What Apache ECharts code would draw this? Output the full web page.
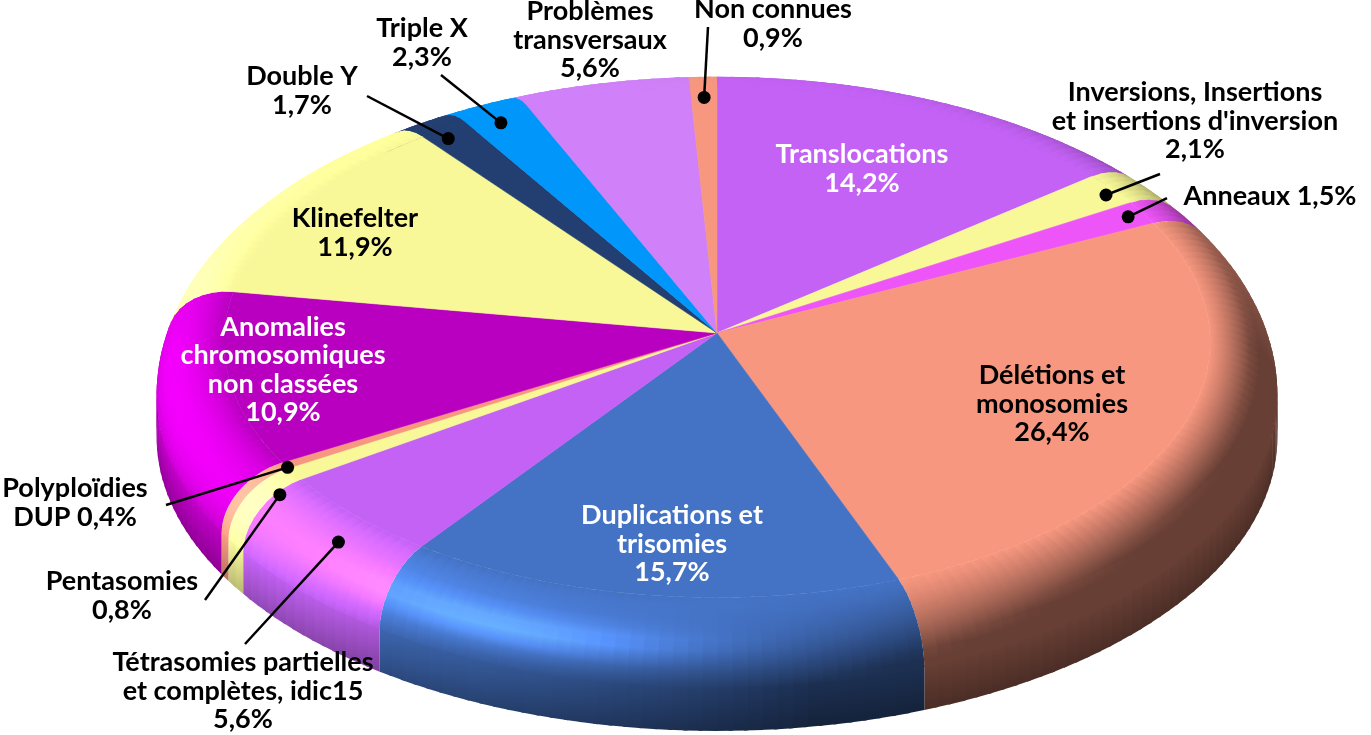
<!DOCTYPE html>
<html>
<head>
<meta charset="utf-8">
<script src="https://cdn.jsdelivr.net/npm/echarts@6/dist/echarts.min.js"></script>
<style>
html, body { margin: 0; padding: 0; background: #fff; }
#chart { width: 1371px; height: 735px; }
</style>
</head>
<body>
<div id="chart"></div>
<script>
// données (en %), dans l'ordre des aiguilles d'une montre depuis 12h
const categories = ['Translocations', "Inversions, Insertions\net insertions d'inversion", 'Anneaux',
  'Délétions et\nmonosomies', 'Duplications et\ntrisomies', 'Tétrasomies partielles\net complètes, idic15',
  'Pentasomies', 'Polyploïdies\nDUP', 'Anomalies\nchromosomiques\nnon classées', 'Klinefelter',
  'Double Y', 'Triple X', 'Problèmes\ntransversaux', 'Non connues'];
const values = [14.2, 2.1, 1.5, 26.4, 15.7, 5.6, 0.8, 0.4, 10.9, 11.9, 1.7, 2.3, 5.6, 0.9];
const joiners = ['\n', '\n', ' ', '\n', '\n', '\n', '\n', ' ', '\n', '\n', '\n', '\n', '\n', '\n'];

// couleurs
const colors = ['#C462F6', '#F8F898', '#EE55F8', '#F7977F', '#4472C4', '#C462F6', '#F8F898',
  '#F7977F', '#B900C0', '#F8F898', '#233E70', '#0096FA', '#D080F8', '#F7977F'];
const textColors = ['#fff', '#000', '#000', '#000', '#fff', '#000', '#000', '#000', '#fff', '#000',
  '#000', '#000', '#000', '#000'];

// placement des étiquettes (px), bouts des traits, points (rayon, profondeur)
const labelPos = [[862, 169], [1195, 121], [1270, 196], [1052, 404], [672, 544], [243, 691], [122, 596],
  [75, 503], [283, 370], [355, 233], [302, 91], [422, 43], [590, 40], [773, 24]];
const leaderEnd = [null, [1160, 174], [1167, 198], null, null, [245, 644], [205, 600], [166, 505],
  null, null, [367, 96], [441, 75], null, [708, 27]];
const dotPos = [null, [0.866, -0.04], [0.85, 0], null, null, [0.92, -0.19], [0.91, -0.17], [0.875, -0.03],
  null, null, [0.866, -0.07], [0.86, -0.05], null, [0.84, 0]];

// géométrie du camembert 3D
const CX = 717, CY = 333, RX = 560, RY = 290, PERSP = 0.04, DEPTH = 92;
const R1 = 0.88, DROP = 0.55, BANDS = 10, STEP = 1.5;
const AMB = 0.42, LIGHT = [-0.68, 0.58, 0.12];
const HALF = (function () { const v = [-0.3, 0.6, 0.75]; const n = Math.hypot(v[0], v[1], v[2]); return v.map(x => x / n); })();
const KS = 0.5, SPEC_N = 30;

const total = values.reduce((a, b) => a + b, 0);
const startAng = [], endAng = [];
let acc = 0;
values.forEach(v => { startAng.push(acc / total * 360); acc += v; endAng.push(acc / total * 360); });

function rad(d) { return d * Math.PI / 180; }

function proj(r, deg, h) {
  const t = rad(deg);
  const w = 1 + PERSP * r * Math.cos(t);
  return [CX + RX * r * Math.sin(t) / w, CY - RY * r * Math.cos(t) / w - DEPTH * h / w];
}

function shade(deg, tilt) {
  const t = rad(deg);
  const nx = Math.sin(tilt) * Math.sin(t), ny = Math.cos(tilt), nz = -Math.sin(tilt) * Math.cos(t);
  const dif = Math.max(0, nx * LIGHT[0] + ny * LIGHT[1] + nz * LIGHT[2]);
  const spec = Math.pow(Math.max(0, nx * HALF[0] + ny * HALF[1] + nz * HALF[2]), SPEC_N) * KS;
  let k = AMB + dif + spec;
  // le bord arrière reste proche de la couleur de base
  const c = Math.cos(t);
  if (c > 0) k = 1 + (k - 1) * Math.min(1, 1 - c * 0.85);
  return k;
}

function mul(hex, k) {
  const n = parseInt(hex.slice(1), 16);
  const c = [n >> 16, (n >> 8) & 255, n & 255].map(x => Math.max(0, Math.min(255, Math.round(x * k))));
  return 'rgb(' + c.join(',') + ')';
}

function pct(v) { return v.toFixed(1).replace('.', ',') + '%'; }

function renderItem(params, api) {
  const i = params.dataIndex;
  const a0 = startAng[i], a1 = endAng[i];
  const col = colors[i];
  const children = [];
  const steps = Math.max(2, Math.ceil((a1 - a0) / STEP));

  for (let s = 0; s < steps; s++) {
    const t0 = a0 + (a1 - a0) * s / steps, tm = a0 + (a1 - a0) * (s + 0.5) / steps;
    // léger recouvrement entre segments pour éviter les joints
    const t1 = Math.min(a1, a0 + (a1 - a0) * (s + 1) / steps + 0.4);
    // biseau arrondi, dégradé de l'intérieur vers l'extérieur
    for (let b = 0; b < BANDS; b++) {
      const u0 = b / BANDS * Math.PI / 2, u1 = (b + 1) / BANDS * Math.PI / 2;
      const ue = Math.min(Math.PI / 2, u1 + 0.03);
      const r0 = R1 + (1 - R1) * Math.sin(u0), h0 = -DROP * (1 - Math.cos(u0));
      const r1 = R1 + (1 - R1) * Math.sin(ue), h1 = -DROP * (1 - Math.cos(ue));
      const pi = proj(r0, tm, h0), po = proj(r1, tm, h1);
      const g = {
        type: 'linear', global: true, x: pi[0], y: pi[1], x2: po[0], y2: po[1],
        colorStops: [{ offset: 0, color: mul(col, shade(tm, u0)) }, { offset: 1, color: mul(col, shade(tm, ue)) }]
      };
      children.push({
        type: 'polygon', z2: 2 + BANDS - b,
        shape: { points: [proj(r0, t0, h0), proj(r0, t1, h0), proj(r1, t1, h1), proj(r1, t0, h1)] },
        style: { fill: g }
      });
    }
    // paroi
    if (Math.cos(rad(tm)) < 0.1) {
      const k = shade(tm, Math.PI / 2);
      const g = {
        type: 'linear', x: 0, y: 0, x2: 0, y2: 1,
        colorStops: [{ offset: 0, color: mul(col, k) }, { offset: 1, color: mul(col, k * 0.7) }]
      };
      children.push({
        type: 'polygon', z2: 1,
        shape: { points: [proj(1, t0, -DROP + 0.02), proj(1, t1, -DROP + 0.02), proj(1, t1, -1), proj(1, t0, -1)] },
        style: { fill: g }
      });
    }
  }

  // dessus
  const top = [[CX, CY]];
  const n = Math.max(2, Math.ceil((a1 - a0) / 0.5));
  for (let s = 0; s <= n; s++) top.push(proj(R1, a0 + (a1 - a0) * s / n, 0));
  children.push({ type: 'polygon', z2: 20, shape: { points: top }, style: { fill: col, stroke: col, lineWidth: 0.6 } });

  // étiquette
  const mid = (a0 + a1) / 2;
  if (dotPos[i]) {
    const d = proj(dotPos[i][0], mid, dotPos[i][1]);
    const e = leaderEnd[i];
    children.push({ type: 'line', z2: 30, shape: { x1: d[0], y1: d[1], x2: e[0], y2: e[1] }, style: { stroke: '#000', lineWidth: 2.5 } });
    children.push({ type: 'circle', z2: 31, shape: { cx: d[0], cy: d[1], r: 6.5 }, style: { fill: '#000' } });
  }
  children.push({
    type: 'text', z2: 40,
    style: {
      text: categories[i] + joiners[i] + pct(values[i]),
      x: labelPos[i][0], y: labelPos[i][1],
      fill: textColors[i], font: 'bold 27px Lato',
      align: 'center', verticalAlign: 'middle', lineHeight: 28.5
    }
  });
  return { type: 'group', children: children };
}

const chart = echarts.init(document.getElementById('chart'));
chart.setOption({
  animation: false,
  series: [{
    type: 'custom',
    coordinateSystem: 'none',
    silent: true,
    renderItem: renderItem,
    data: values.map((v, i) => ({ name: categories[i], value: v }))
  }]
});
</script>
</body>
</html>
